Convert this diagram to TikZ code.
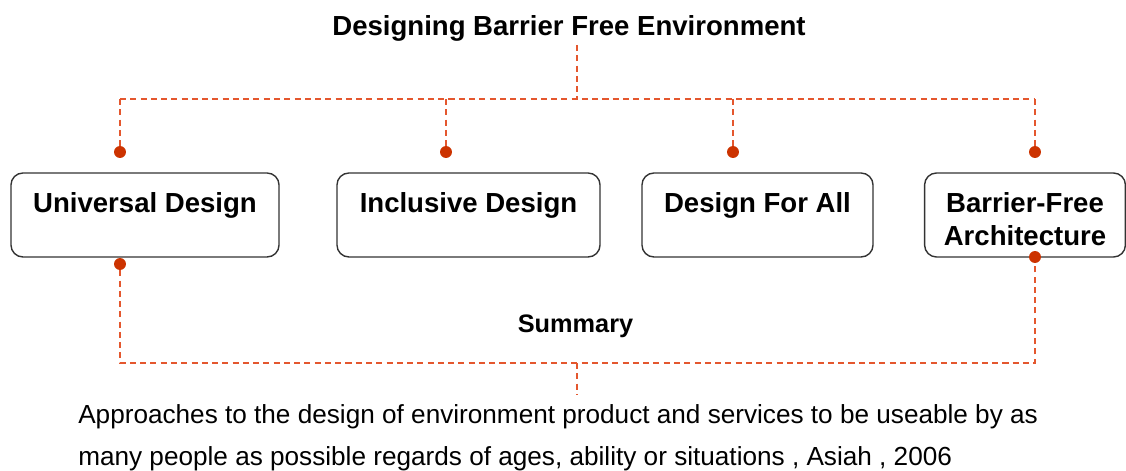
\documentclass[tikz,border=0pt]{standalone}
\usepackage{fontspec}
\setmainfont{Liberation Sans}
\usepackage{xcolor}
\usepackage{tikz}
\usetikzlibrary{positioning}
\definecolor{linkred}{HTML}{E4572E}
\definecolor{dotred}{HTML}{CC3300}
\definecolor{boxgray}{HTML}{333333}
\tikzstyle{box} = [draw=boxgray, line width=1pt, rounded corners=0.3cm,
	minimum height=2.1cm, inner sep=0pt]
\tikzstyle{boxtext} = [font=\fontsize{19.6pt}{23.6pt}\selectfont\bfseries,
	align=center, inner sep=0pt]
\tikzstyle{link} = [draw=linkred, line width=1pt, dash pattern=on 4.3pt off 3pt]
\newcommand{\drawdot}[2]{\node[circle, fill=dotred, inner sep=0pt,
	minimum size=8.5pt] (#1) at #2 {}}

\begin{document}
\begin{tikzpicture}[x=0.025cm, y=-0.025cm]
	\useasboundingbox (0,0) rectangle (1126,471);
	\node[boxtext, anchor=base] (title) at (569,36) {Designing Barrier Free Environment};
	\coordinate (tt) at (577,45);
	\coordinate (tj) at (577,99);

	\node (ud) [box, minimum width=6.7cm] at (145,215) {};
	\node (id) [box, minimum width=6.575cm] at (468.5,215) {};
	\node (dfa) [box, minimum width=5.775cm] at (757.5,215) {};
	\node (bfa) [box, minimum width=5.02cm] at (1025,215) {};
	\node (udt) [boxtext, below=14pt of ud.north] {Universal Design};
	\node (idt) [boxtext, below=14pt of id.north] {Inclusive Design};
	\node (dfat) [boxtext, below=14pt of dfa.north] {Design For All};
	\node (bfat) [boxtext, below=14pt of bfa.north] {Barrier-Free\\Architecture};

	\drawdot{t1}{(120,152)};
	\drawdot{t2}{(446,152)};
	\drawdot{t3}{(733,152)};
	\drawdot{t4}{(1035,152)};
	\drawdot{b1}{(120,264)};
	\drawdot{b2}{(1035,257)};

	\draw [link] (tt) -- (tj);
	\draw [link] (t1 |- tj) -- (t4 |- tj);
	\draw [link] (t1 |- tj) -- (t1.north);
	\draw [link] (t2 |- tj) -- (t2.north);
	\draw [link] (t3 |- tj) -- (t3.north);
	\draw [link] (t4 |- tj) -- (t4.north);

	\coordinate (sj) at (577,363);
	\coordinate (se) at (577,395);
	\draw [link] (b1.south) -- (b1 |- sj) -- (b2 |- sj) -- (b2.south);
	\draw [link] (sj) -- (se);
	\node [boxtext, font=\fontsize{18pt}{20pt}\selectfont\bfseries, anchor=base] (sum) at (575.5,333) {Summary};

	\node [anchor=north west, inner sep=0pt, align=left,
		font=\fontsize{18.6pt}{30.4pt}\selectfont] (note) at (78,404)
		{Approaches to the design of environment product and services to be useable by as\\
		many people as possible regards of ages, ability or situations , Asiah , 2006};
\end{tikzpicture}
\end{document}
